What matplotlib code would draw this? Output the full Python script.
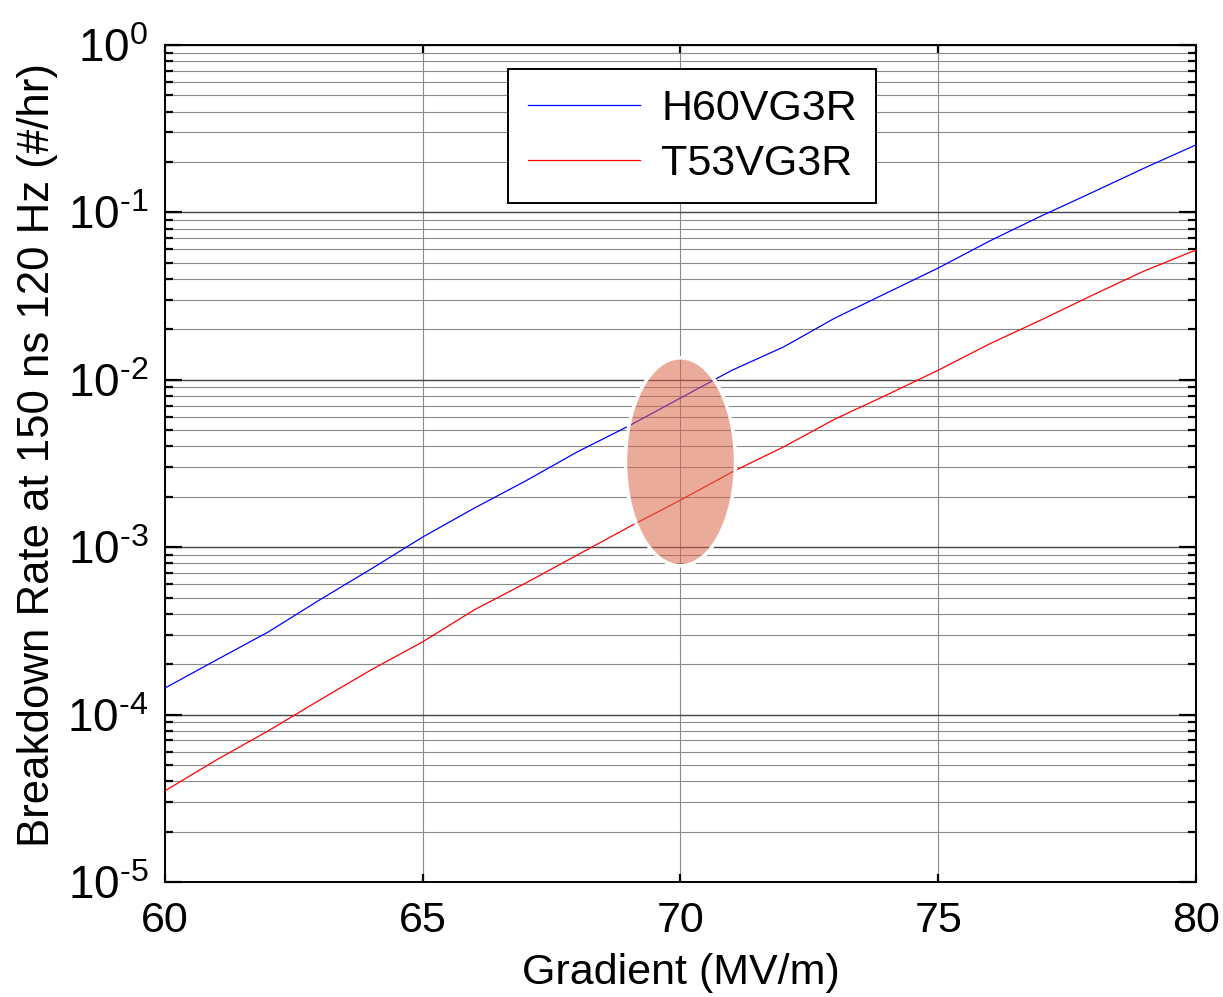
import numpy as np
import matplotlib
matplotlib.use("Agg")
from matplotlib import pyplot as plt
from matplotlib.patches import Ellipse
from matplotlib.ticker import LogLocator, FixedLocator, FuncFormatter

plt.rcParams['font.family'] = ['Liberation Sans', 'DejaVu Sans']
plt.rcParams['mathtext.fontset'] = 'custom'
plt.rcParams['mathtext.rm'] = 'Liberation Sans'
plt.rcParams['mathtext.it'] = 'Liberation Sans'

# Gradient (MV/m)
gradient = [60, 61, 62, 63, 64, 65, 66, 67, 68, 69, 70,
            71, 72, 73, 74, 75, 76, 77, 78, 79, 80]

# Breakdown rates (#/hr)
h60vg3r = [1.44e-4, 2.12e-4, 3.11e-4, 4.84e-4, 7.41e-4, 1.15e-3, 1.71e-3,
           2.49e-3, 3.71e-3, 5.30e-3, 7.78e-3, 1.14e-2, 1.57e-2, 2.34e-2,
           3.30e-2, 4.65e-2, 6.75e-2, 9.52e-2, 1.32e-1, 1.84e-1, 2.53e-1]
t53vg3r = [3.50e-5, 5.36e-5, 7.98e-5, 1.22e-4, 1.85e-4, 2.72e-4, 4.22e-4,
           6.11e-4, 8.98e-4, 1.32e-3, 1.91e-3, 2.81e-3, 3.97e-3, 5.83e-3,
           8.11e-3, 1.14e-2, 1.64e-2, 2.28e-2, 3.21e-2, 4.47e-2, 5.96e-2]

x_ticks = [60, 65, 70, 75, 80]


def _decade_label(v, pos):
    # MATLAB-style: plain hyphen in the exponent
    e = int(round(np.log10(v)))
    return r'$10^{\text{%s}}$' % ('-%d' % -e if e < 0 else '%d' % e)


fig = plt.figure(figsize=(12.23, 9.97), dpi=100)
ax = fig.add_axes([0.1349, 0.1154, 0.8430, 0.8395])

ax.plot(gradient, h60vg3r, color='blue', lw=0.9, label='H60VG3R', zorder=3)
ax.plot(gradient, t53vg3r, color='red', lw=0.9, label='T53VG3R', zorder=3)

ax.set_yscale('log')
ax.set_xlim(60, 80)
ax.set_ylim(1e-5, 1e0)

ax.xaxis.set_major_locator(FixedLocator(x_ticks))
ax.yaxis.set_major_locator(LogLocator(base=10, numticks=10))
ax.yaxis.set_minor_locator(LogLocator(base=10, subs=np.arange(2, 10), numticks=20))
ax.yaxis.set_major_formatter(FuncFormatter(_decade_label))
ax.yaxis.set_minor_formatter(FuncFormatter(lambda v, p: ''))

ax.grid(True, which='major', axis='y', color='#444444', lw=1.0)
ax.grid(True, which='minor', axis='y', color='#8a8a8a', lw=0.8)
ax.grid(True, which='major', axis='x', color='#8a8a8a', lw=0.8)
ax.set_axisbelow(True)

ax.tick_params(which='both', direction='in', top=True, right=True,
               labelsize=31, width=1.6, color='black')
ax.tick_params(which='major', axis='y', length=12, pad=12, labelsize=33)
ax.tick_params(which='minor', axis='y', length=6)
ax.tick_params(which='major', axis='x', length=6, pad=14)
for s in ax.spines.values():
    s.set_linewidth(1.4)

ax.set_xlabel('Gradient (MV/m)', fontsize=31, labelpad=8)
ax.set_ylabel('Breakdown Rate at 150 ns 120 Hz (#/hr)', fontsize=31.5)
ax.yaxis.set_label_coords(-0.104, 0.51)

# highlight ellipse around 70 MV/m
ax.add_patch(Ellipse((0.5, 0.502), 0.1067, 0.2485, transform=ax.transAxes,
                     facecolor='#D9664A', alpha=0.55, edgecolor='none', zorder=4))
ax.add_patch(Ellipse((0.5, 0.502), 0.1067, 0.2485, transform=ax.transAxes,
                     facecolor='none', edgecolor='white', lw=2.5, zorder=5))

leg = ax.legend(loc='upper left', bbox_to_anchor=(0.333, 0.971), fontsize=31,
                handlelength=2.6, handletextpad=0.5, borderpad=0.45,
                labelspacing=0.35, borderaxespad=0, fancybox=False,
                framealpha=1, edgecolor='black')
leg.get_frame().set_linewidth(1.4)

fig.savefig('out.png', dpi=100)
